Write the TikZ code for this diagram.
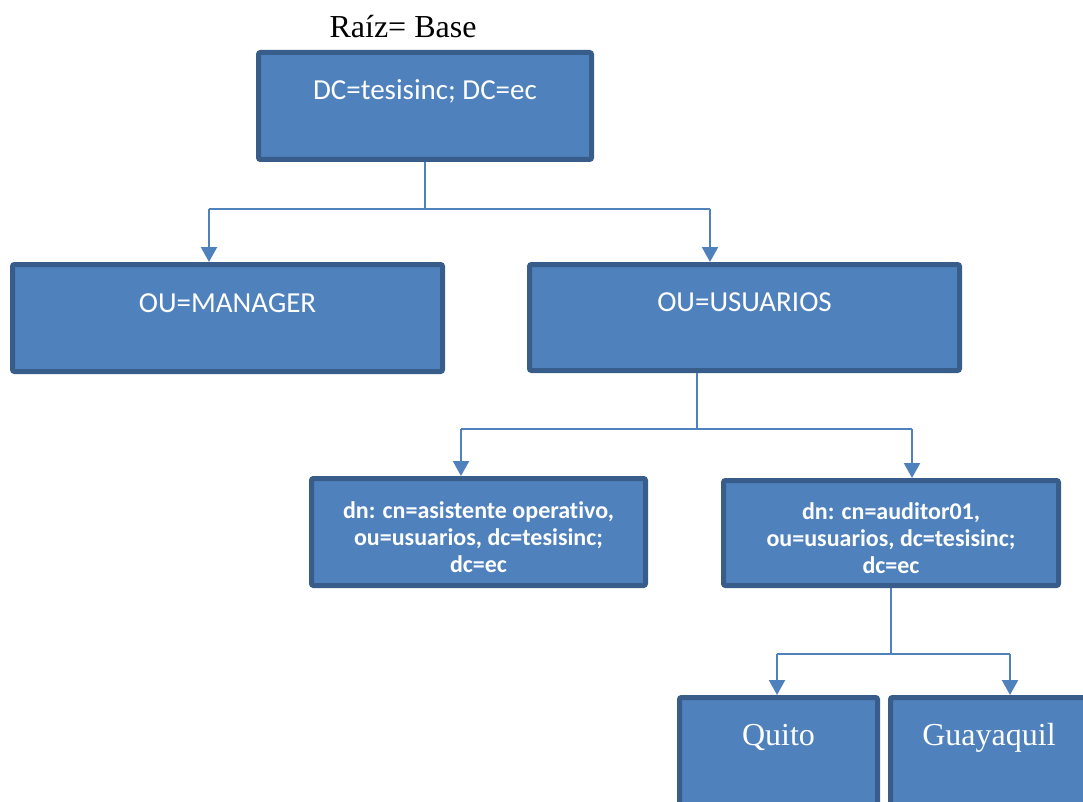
\documentclass[tikz,border=0pt]{standalone}
\usepackage{fontspec}
\setmainfont{Liberation Serif}
\newfontfamily\calibri[Ligatures=NoCommon]{Carlito}
\usetikzlibrary{arrows.meta}

\definecolor{ofblue}{HTML}{4F81BD}
\definecolor{ofdark}{HTML}{385D8A}

\tikzset{
  box/.style={draw=ofdark, fill=ofblue, line width=5pt, rounded corners=2pt,
    text=white, inner sep=0pt, align=center},
  topbox/.style={box, text height=20pt, text depth=32pt},
  bigsans/.style={font=\calibri\fontsize{29}{33}\selectfont},
  boldsans/.style={font=\calibri\bfseries\fontsize{24}{27}\selectfont},
  bigserif/.style={font=\fontsize{32}{36}\selectfont},
  link/.style={draw=ofblue, line width=2.2pt},
  arr/.style={link, -{Triangle[width=16pt,length=15pt]}}
}
\newcommand{\dnstrut}{\rule{0pt}{28pt}}

\begin{document}
\begin{tikzpicture}[x=1pt,y=-1pt]
      \useasboundingbox (0,0) rectangle (1083,802);
      \clip (0,0) rectangle (1083,802);
      \node[bigserif] at (403,27) (raiz) {Raíz= Base};
      \node[topbox, bigsans, minimum width=333pt, minimum height=107pt] at (425,106) (root)
        {DC=tesisinc; DC=ec};
      \node[topbox, bigsans, minimum width=430pt, minimum height=107pt] at (227.5,318) (manager)
        {OU=MANAGER};
      \node[topbox, bigsans, minimum width=430pt, minimum height=106pt] at (744.5,317.5) (usuarios)
        {OU=USUARIOS};
      \node[box, boldsans, minimum width=334pt, minimum height=107pt] at (478.5,532) (asistente)
        {\dnstrut dn: cn=asistente operativo,\\ ou=usuarios, dc=tesisinc;\\ dc=ec};
      \node[box, boldsans, minimum width=335pt, minimum height=105pt] at (891,533) (auditor)
        {\dnstrut dn: cn=auditor01,\\ ou=usuarios, dc=tesisinc;\\ dc=ec};
      \node[topbox, bigserif, minimum width=198pt, minimum height=107pt] at (778.5,751) (quito)
        {Quito};
      \node[topbox, bigserif, minimum width=197pt, minimum height=107pt] at (989,751) (guayaquil)
        {Guayaquil};
      % buses
      \coordinate (busA)  at (425,209);
      \coordinate (busAl) at (209,209);
      \coordinate (busAr) at (710,209);
      \coordinate (busB)  at (697,429);
      \coordinate (busBl) at (461,429);
      \coordinate (busBr) at (912,429);
      \coordinate (busC)  at (891,654);
      \coordinate (busCl) at (777,654);
      \coordinate (busCr) at (1010,654);
      \path[link] (root.south) -- (busA);
      \path[link] (busAl) -- (busAr);
      \path[arr] (busAl) -- (busAl |- manager.north);
      \path[arr] (busAr) -- (busAr |- usuarios.north);
      \path[link] (busB |- usuarios.south) -- (busB);
      \path[link] (busBl) -- (busBr);
      \path[arr] (busBl) -- (busBl |- asistente.north);
      \path[arr] (busBr) -- (busBr |- auditor.north);
      \path[link] (auditor.south) -- (busC);
      \path[link] (busCl) -- (busCr);
      \path[arr] (busCl) -- (busCl |- quito.north);
      \path[arr] (busCr) -- (busCr |- guayaquil.north);
\end{tikzpicture}
\end{document}
